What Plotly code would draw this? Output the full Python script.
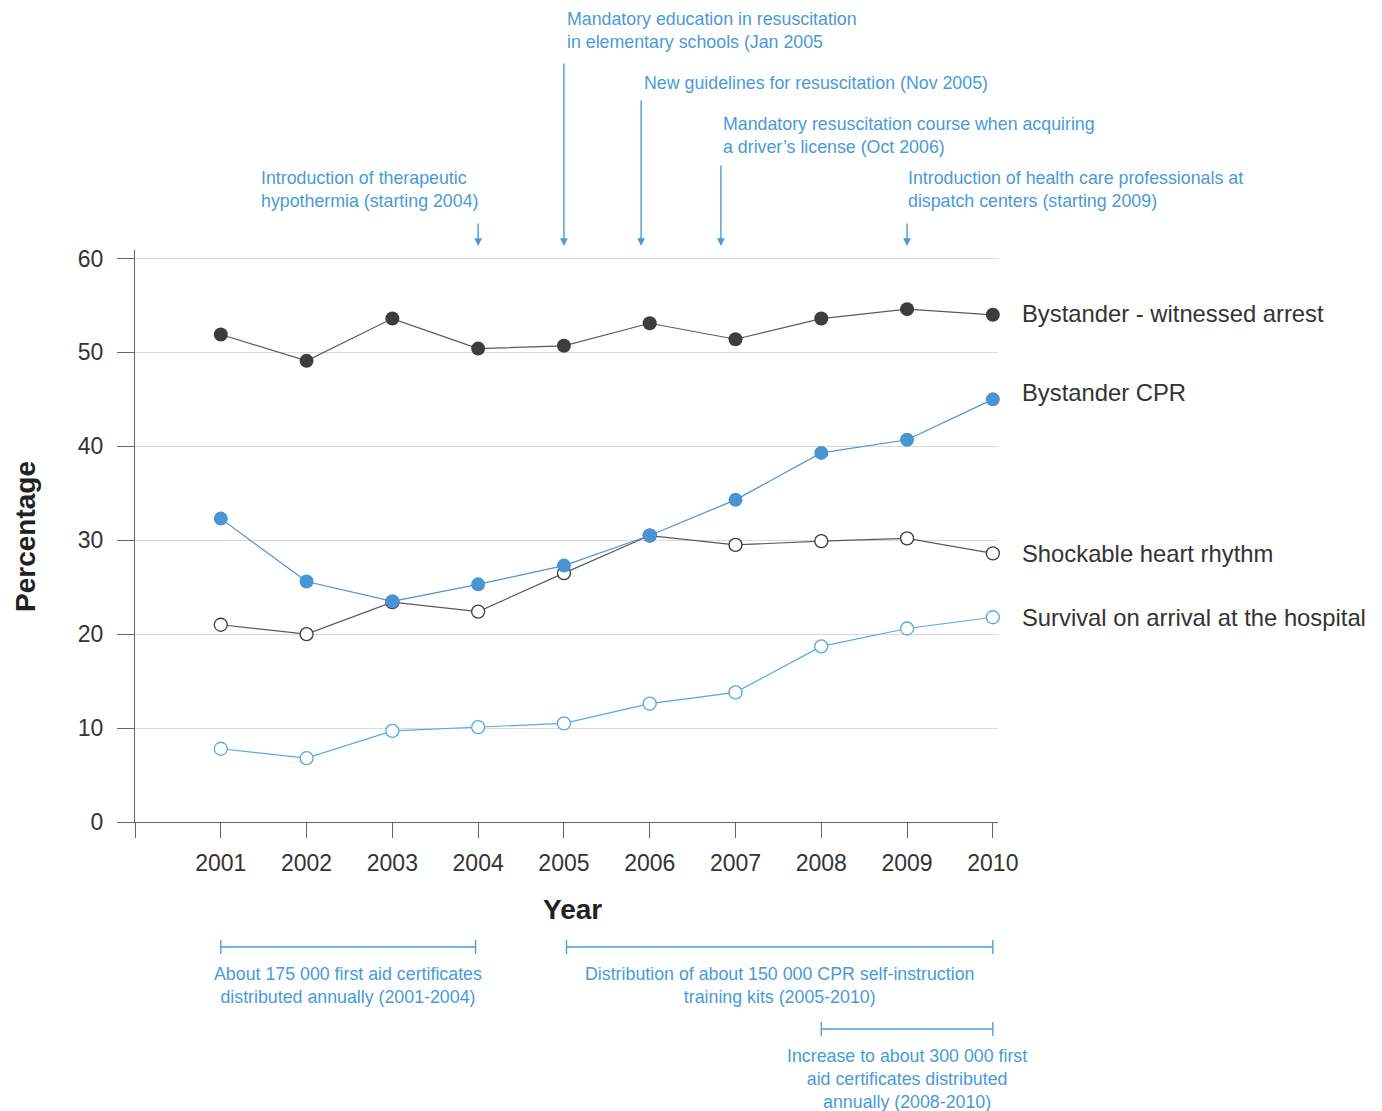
import plotly.graph_objects as go

years = [2001, 2002, 2003, 2004, 2005, 2006, 2007, 2008, 2009, 2010]
witnessed = [51.9, 49.1, 53.6, 50.4, 50.7, 53.1, 51.4, 53.6, 54.6, 54.0]
bystander_cpr = [32.3, 25.6, 23.5, 25.3, 27.3, 30.5, 34.3, 39.3, 40.7, 45.0]
shockable = [21.0, 20.0, 23.4, 22.4, 26.5, 30.5, 29.5, 29.9, 30.2, 28.6]
survival = [7.8, 6.8, 9.7, 10.1, 10.5, 12.6, 13.8, 18.7, 20.6, 21.8]

series_names = ["Bystander - witnessed arrest", "Bystander CPR",
                "Shockable heart rhythm", "Survival on arrival at the hospital"]
label_y = [54.1, 45.7, 28.6, 21.8]

# events marked with arrows above the chart
event_x = [2004.0, 2005.0, 2005.9, 2006.83, 2009.0]
event_text = ["Introduction of therapeutic<br>hypothermia (starting 2004)",
              "Mandatory education in resuscitation<br>in elementary schools (Jan 2005",
              "New guidelines for resuscitation (Nov 2005)",
              "Mandatory resuscitation course when acquiring<br>a driver\u2019s license (Oct 2006)",
              "Introduction of health care professionals at<br>dispatch centers (starting 2009)"]

# periods marked with brackets below the chart
period_start = [2001, 2005.03, 2008]
period_end = [2003.97, 2010, 2010]
period_text = ["About 175 000 first aid certificates<br>distributed annually (2001-2004)",
               "Distribution of about 150 000 CPR self-instruction<br>training kits (2005-2010)",
               "Increase to about 300 000 first<br>aid certificates distributed<br>annually (2008-2010)"]

DARK = "#3d3d3d"
BLUE = "#4a94d4"
LBLUE = "#55a9e2"
TXT = "#4a9ad8"
FONT = "Liberation Sans, Arial, sans-serif"

fig = go.Figure()

fig.add_trace(go.Scatter(x=years, y=witnessed, mode="lines+markers", cliponaxis=False,
                         line=dict(color="#5a5a5a", width=1.2),
                         marker=dict(size=14, color=DARK), name=series_names[0]))
fig.add_trace(go.Scatter(x=years, y=shockable, mode="lines+markers", cliponaxis=False,
                         line=dict(color="#5a5a5a", width=1.2),
                         marker=dict(size=13, color="white", line=dict(color=DARK, width=1.3)),
                         name=series_names[2]))
fig.add_trace(go.Scatter(x=years, y=bystander_cpr, mode="lines+markers", cliponaxis=False,
                         line=dict(color=BLUE, width=1.2),
                         marker=dict(size=14, color=BLUE), name=series_names[1]))
fig.add_trace(go.Scatter(x=years, y=survival, mode="lines+markers", cliponaxis=False,
                         line=dict(color=LBLUE, width=1.2),
                         marker=dict(size=13, color="white", line=dict(color=LBLUE, width=1.3)),
                         name=series_names[3]))

# page has an 8px body margin, so positions below are reference pixels minus 8
OFF = 8
W, H = 1382, 1111
L, R, T, B = 135 - OFF, 1382 - 998 + OFF, 250 - OFF, 1111 - 822 + OFF
ph = H - T - B


def py(pix):
    # reference pixel row -> paper y
    return (H - B - (pix - OFF)) / ph


def px_(pix):
    return (pix - OFF - L) / (W - L - R)


ann = []
for name, yv in zip(series_names, label_y):
    ann.append(dict(x=px_(1020), xref="paper", y=yv, yref="y", text=name,
                    showarrow=False, xanchor="left", yanchor="middle",
                    font=dict(size=23.8, color="#333333")))

arrow_tail = [222, 62, 99, 164, 222]
text_left = [259, 565, 642, 721, 906]
text_mid = [189, 31, 83, 135, 189]
for ex, et, tail, tl, tm in zip(event_x, event_text, arrow_tail, text_left, text_mid):
    ann.append(dict(x=ex, xref="x", y=py(246), yref="paper", text="",
                    showarrow=True, ax=0, ay=-(246 - tail), arrowhead=2,
                    arrowsize=1.1, arrowwidth=1.4, arrowcolor=TXT))
    ann.append(dict(x=px_(tl), xref="paper", y=py(tm), yref="paper", text=et,
                    showarrow=False, xanchor="left", yanchor="middle", align="left",
                    font=dict(size=17.8, color=TXT)))

shapes = []
bracket_y = [947, 947, 1029]
text_y = [985, 985, 1079]
for s, e, t, by, ty in zip(period_start, period_end, period_text, bracket_y, text_y):
    shapes.append(dict(type="line", xref="x", yref="paper", x0=s, x1=e,
                       y0=py(by), y1=py(by), line=dict(color=TXT, width=1.3)))
    for xx in (s, e):
        shapes.append(dict(type="line", xref="x", yref="paper", x0=xx, x1=xx,
                           y0=py(by - 7), y1=py(by + 7), line=dict(color=TXT, width=1.3)))
    ann.append(dict(x=(s + e) / 2, xref="x", y=py(ty), yref="paper", text=t,
                    showarrow=False, xanchor="center", yanchor="middle", align="center",
                    font=dict(size=17.8, color=TXT)))

ann.append(dict(x=px_(572), xref="paper", y=py(910), yref="paper", text="<b>Year</b>",
                showarrow=False, xanchor="center", yanchor="middle",
                font=dict(size=28, color="#222222")))
ann.append(dict(x=px_(25), xref="paper", y=py(537), yref="paper", text="<b>Percentage</b>",
                showarrow=False, textangle=-90, xanchor="center", yanchor="middle",
                font=dict(size=28, color="#222222")))

fig.update_layout(
    width=W, height=H,
    margin=dict(l=L, r=R, t=T, b=B),
    plot_bgcolor="white", paper_bgcolor="white",
    font=dict(family=FONT),
    showlegend=False,
    annotations=ann,
    shapes=shapes,
)

fig.update_xaxes(range=[2000, 2010.06], tickvals=list(range(2000, 2011)),
                 ticktext=[""] + [str(y) for y in years],
                 ticks="outside", ticklen=15, tickcolor="#666666", tickwidth=1.3,
                 ticklabelstandoff=5,
                 showline=True, linecolor="#666666", linewidth=1.3,
                 showgrid=False, zeroline=False,
                 tickfont=dict(size=23, color="#333333"))
fig.update_yaxes(range=[0, 60.9], tickvals=[0, 10, 20, 30, 40, 50, 60],
                 ticks="outside", ticklen=17, tickcolor="#666666", tickwidth=1.3,
                 ticklabelstandoff=9,
                 showline=True, linecolor="#666666", linewidth=1.3,
                 showgrid=True, gridcolor="#d9d9d9", gridwidth=1.3, zeroline=False,
                 tickfont=dict(size=23, color="#333333"))

fig.write_html("out.html")
